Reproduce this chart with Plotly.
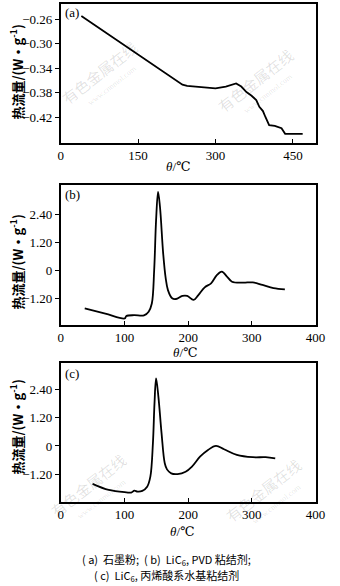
import plotly.graph_objects as go

# ---- data ----
a_x = [40, 80, 120, 150, 190, 236, 245, 270, 300, 320, 340, 350, 360, 370, 379, 385, 392, 397, 404, 415, 428, 435, 450, 469]
a_y = [-0.255, -0.278, -0.301, -0.318, -0.340, -0.367, -0.369, -0.371, -0.373, -0.370, -0.365, -0.370, -0.379, -0.385, -0.392, -0.403, -0.410, -0.420, -0.433, -0.434, -0.438, -0.447, -0.447, -0.447]

b_x = [37.7, 70, 100.5, 103, 115, 130.7, 138, 143, 146.7, 149.7, 152.8, 155.8, 160.8, 164.8, 168.3, 174.9, 180.9, 191, 198.5, 208.5, 216, 226, 236, 245, 252.8, 261.3, 268.8, 286.4, 301.5, 316.6, 334, 351.8]
b_y = [-1.61, -1.83, -2.04, -1.94, -1.90, -1.91, -1.75, -1.40, 0.03, 2.16, 3.37, 2.73, 0.74, -0.33, -0.83, -1.18, -1.21, -1.08, -1.08, -1.25, -1.04, -0.71, -0.54, -0.19, -0.04, -0.26, -0.47, -0.51, -0.50, -0.61, -0.75, -0.80]

c_x = [50, 75.4, 103, 110.6, 115.6, 120.6, 128, 135.7, 140.7, 144.7, 147.2, 149.7, 153.3, 158.3, 163.3, 166.8, 173.4, 183.4, 196, 206, 218.6, 231.2, 243.7, 256.3, 276.4, 301.5, 321.6, 336.7]
c_y = [-1.62, -1.88, -1.98, -1.99, -1.91, -1.95, -1.92, -1.74, -1.31, 0.11, 1.82, 2.89, 2.11, 0.54, -0.74, -1.00, -1.17, -1.20, -1.10, -0.88, -0.46, -0.17, 0.00, -0.14, -0.38, -0.48, -0.48, -0.53]

a_xticks = [0, 150, 300, 450]
a_yticks = [-0.26, -0.30, -0.34, -0.38, -0.42]
bc_xticks = [0, 100, 200, 300, 400]
bc_yticks = [2.40, 1.20, 0, -1.20]
bc_yticktext = ["2.40", "1.20", "0", "\u22121.20"]

y_title = "<b>热流量/(W·g<sup>-1</sup>)</b>"
x_title = "<i>θ</i>/℃"
caption1 = "( a)  石墨粉;  ( b)  LiC<sub>6</sub>, PVD 粘结剂;"
caption2 = "( c)  LiC<sub>6</sub>, 丙烯酸系水基粘结剂"

W, H = 340, 586
def py(p):
    return 1 - p / H
def px(p):
    return p / W

SERIF = "Liberation Serif, Times New Roman, DejaVu Serif, serif"
CJK = "Noto Sans CJK SC"

fig = go.Figure()
line = dict(color="black", width=1.8)
fig.add_trace(go.Scatter(x=a_x, y=a_y, mode="lines", line=line, xaxis="x", yaxis="y"))
fig.add_trace(go.Scatter(x=b_x, y=b_y, mode="lines", line=line, line_shape="spline", xaxis="x2", yaxis="y2"))
fig.add_trace(go.Scatter(x=c_x, y=c_y, mode="lines", line=line, line_shape="spline", xaxis="x3", yaxis="y3"))

tickfont = dict(family=SERIF, size=13, color="black")
common = dict(showline=True, linecolor="black", linewidth=1.5, mirror=True, showgrid=False,
              zeroline=False, tickfont=tickfont, ticklen=4, tickcolor="black")
xd = [px(60), px(325)]

fig.update_layout(
    width=W, height=H, margin=dict(l=0, r=0, t=0, b=0),
    paper_bgcolor="white", plot_bgcolor="white", showlegend=False,
    font=dict(family=SERIF, color="black"),
    xaxis=dict(domain=xd, range=[0, 494], tickvals=a_xticks, ticks="inside", anchor="y", **common),
    yaxis=dict(domain=[py(143), py(4)], range=[-0.462, -0.2355], tickvals=a_yticks, tickformat=".2f",
               ticks="outside", anchor="x", **common),
    xaxis2=dict(domain=xd, range=[0, 400], tickvals=bc_xticks, ticks="inside", anchor="y2", **common),
    yaxis2=dict(domain=[py(325), py(185)], range=[-2.32, 3.66], tickvals=bc_yticks, ticktext=bc_yticktext,
                ticks="outside", anchor="x2", **common),
    xaxis3=dict(domain=xd, range=[0, 400], tickvals=bc_xticks, ticks="inside", anchor="y3", **common),
    yaxis3=dict(domain=[py(501.7), py(363.3)], range=[-2.38, 3.53], tickvals=bc_yticks, ticktext=bc_yticktext,
                ticks="outside", anchor="x3", **common),
)

ann = []
def A(text, x, y, size=13, angle=0, color="black", family=SERIF, xanchor="center"):
    ann.append(dict(text=text, x=px(x), y=py(y), xref="paper", yref="paper", showarrow=False,
                    textangle=angle, xanchor=xanchor, yanchor="middle",
                    font=dict(family=family, size=size, color=color)))

# watermarks
wm = "rgba(0,0,0,0.12)"
for (x, y) in [(100, 72), (262, 80), (88, 485), (270, 490)]:
    A("有色金属在线", x, y, size=15, angle=-38, color=wm, family=CJK)
    A("www.cnnmol.com", x + 14, y + 14, size=8, angle=-38, color=wm)

# panel labels
A("(a)", 72, 13)
A("(b)", 72, 195)
A("(c)", 72, 373)
# y titles
A(y_title, 14, 72, size=13, angle=-90, family=CJK)
A(y_title, 14, 262, size=13, angle=-90, family=CJK)
A(y_title, 14, 427, size=13, angle=-90, family=CJK)
# x titles
A(x_title, 182, 166, size=13)
A(x_title, 190, 352, size=13)
A(x_title, 187, 531, size=13)
# captions
A(caption1, 170, 559, size=11, family=CJK)
A(caption2, 170, 575, size=11, family=CJK)

fig.update_layout(annotations=ann)
fig.write_html("out.html")
